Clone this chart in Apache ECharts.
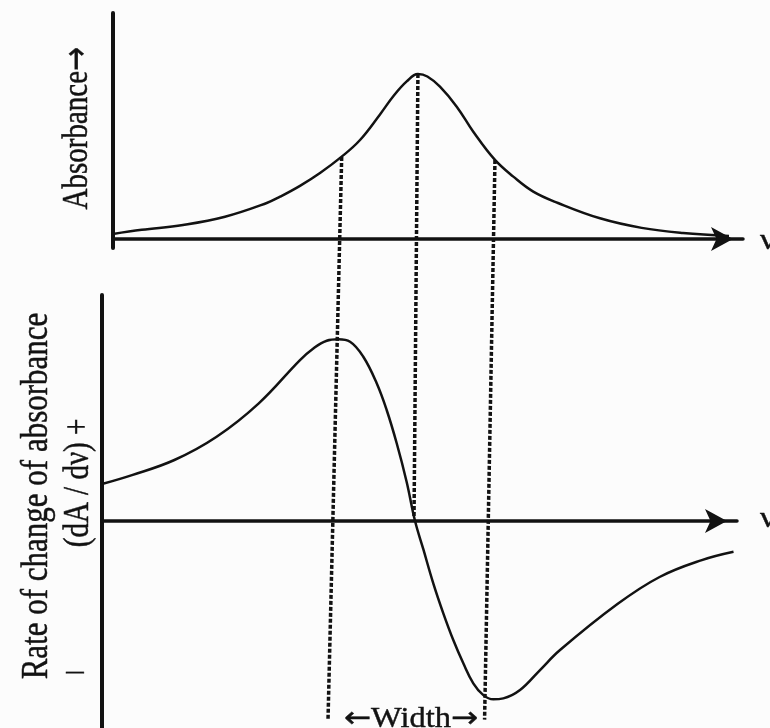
<!DOCTYPE html>
<html>
<head>
<meta charset="utf-8">
<script src="https://cdn.jsdelivr.net/npm/echarts@6/dist/echarts.min.js"></script>
<style>
html,body{margin:0;padding:0;background:#fcfcfc;}
#chart{width:770px;height:728px;}
</style>
</head>
<body>
<div id="chart"></div>
<script>
// Absorbance curve (top panel), frequency in arbitrary units
const absX = [0, 4.56, 11.11, 17.78, 24.4, 26.51, 29.68, 32.86, 36.3, 39.21, 42.38, 44.49, 46.62, 48.4, 49.9, 51.9, 54.56, 57.19, 60.63, 63.54, 66.71, 70.63, 77.3, 83.92, 90.48, 97.78];
const absY = [0.03, 0.055, 0.085, 0.135, 0.218, 0.256, 0.322, 0.400, 0.499, 0.600, 0.755, 0.865, 0.955, 1.0, 0.985, 0.923, 0.802, 0.650, 0.479, 0.378, 0.287, 0.218, 0.125, 0.067, 0.036, 0.018];

// First derivative curve (bottom panel)
const derX = [0, 4.72, 11.4, 18.05, 24.69, 31.18, 33.28, 35.39, 37.21, 39.06, 41.15, 43.26, 44.83, 46.41, 47.98, 49.3, 50.6, 52.17, 53.75, 55.32, 56.9, 58.47, 60.05, 61.62, 63.2, 65.83, 68.98, 72.13, 81.17, 87.81, 94.46, 99.45];
const derY = [0.204, 0.253, 0.336, 0.464, 0.648, 0.886, 0.950, 0.992, 1.0, 0.987, 0.904, 0.758, 0.611, 0.428, 0.215, 0, -0.155, -0.343, -0.508, -0.655, -0.783, -0.893, -0.958, -0.981, -0.976, -0.930, -0.820, -0.710, -0.457, -0.308, -0.215, -0.169];

// Vertical dotted guide lines, in top-panel units (projected downward)
const guideTopX = [36.3, 48.4, 60.63];
const guideTopY = [0.497, 1.0, 0.479];
const guideBotX = [34.13, 47.78, 58.98];
const guideBotY = [-2.915, -1.691, -2.915];

// Texts
const topYLabel = 'Absorbance';
const botYLabel1 = 'Rate of change of absorbance';
const botYLabel2 = '(dA / d\u03bd) +';
const botYMinus = '\u2013';
const xLabel = '\u03bd';
const widthLabel = 'Width';
const arrowL = '\u2190';
const arrowR = '\u2192';

const ink = '#121212';
const FONT = '"Liberation Serif", "DejaVu Serif", serif';
const ARROW_FONT = '"DejaVu Sans", sans-serif';

function zip(xs, ys) { return xs.map((x, i) => [x, ys[i]]); }

const chart = echarts.init(document.getElementById('chart'), null, {renderer: 'canvas'});

const axisCommon = {
  type: 'value',
  axisTick: {show: false},
  axisLabel: {show: false},
  splitLine: {show: false}
};

const guideSeries = guideTopX.map((x, i) => ({
  type: 'line',
  xAxisIndex: 0,
  yAxisIndex: 0,
  clip: false,
  symbol: 'none',
  silent: true,
  z: 5,
  lineStyle: {color: ink, width: 3.5, type: [4, 2]},
  data: [[x, guideTopY[i]], [guideBotX[i], guideBotY[i]]]
}));

const textStyle = (t, extra) => Object.assign({
  text: t, fill: ink, fontSize: 29, fontFamily: FONT, align: 'center', verticalAlign: 'middle',
  stroke: ink, lineWidth: 0.4
}, extra || {});

const richDefs = {
  t: {fontSize: 29, fontFamily: FONT, fill: ink},
  a: {fontSize: 29, fontFamily: ARROW_FONT, fill: ink}
};

chart.setOption({
  backgroundColor: '#fcfcfc',
  animation: false,
  grid: [
    {left: 113, right: 27, top: 13, bottom: 480},
    {left: 102, right: 33, top: 295, bottom: 0}
  ],
  xAxis: [
    Object.assign({}, axisCommon, {
      gridIndex: 0, min: 0, max: 100,
      axisLine: {show: true, onZero: true, symbol: ['none', 'arrow'], symbolSize: [18, 22], symbolOffset: [0, -10],
        lineStyle: {color: ink, width: 3.5}}
    }),
    Object.assign({}, axisCommon, {
      gridIndex: 1, min: 0, max: 100,
      axisLine: {show: true, onZero: true, symbol: ['none', 'arrow'], symbolSize: [18, 22], symbolOffset: [0, -10],
        lineStyle: {color: ink, width: 3.5}}
    })
  ],
  yAxis: [
    Object.assign({}, axisCommon, {
      gridIndex: 0, min: -0.055, max: 1.37,
      axisLine: {show: true, onZero: false, lineStyle: {color: ink, width: 4}}
    }),
    Object.assign({}, axisCommon, {
      gridIndex: 1, min: -1.139, max: 1.244,
      axisLine: {show: true, onZero: false, lineStyle: {color: ink, width: 4}}
    })
  ],
  series: [
    {
      type: 'line', xAxisIndex: 0, yAxisIndex: 0, symbol: 'none', smooth: 0.4,
      lineStyle: {color: ink, width: 2.5}, data: zip(absX, absY), z: 4
    },
    {
      type: 'line', xAxisIndex: 1, yAxisIndex: 1, symbol: 'none', smooth: 0.4, clip: false,
      lineStyle: {color: ink, width: 2.5}, data: zip(derX, derY), z: 4
    }
  ].concat(guideSeries),
  graphic: [
    {type: 'text', x: 78, y: 128, rotation: Math.PI / 2, scaleY: 1.2,
      style: textStyle('{t|' + topYLabel + '}{a|' + arrowR + '}', {rich: richDefs})},
    {type: 'text', x: 37, y: 496, rotation: Math.PI / 2, scaleY: 1.2, style: textStyle(botYLabel1, {fontSize: 31})},
    {type: 'text', x: 79, y: 483, rotation: Math.PI / 2, scaleY: 1.2, style: textStyle(botYLabel2)},
    {type: 'text', x: 75, y: 672, scaleX: 1.2, style: textStyle(botYMinus)},
    {type: 'text', x: 411, y: 719, scaleX: 1.12,
      style: textStyle('{a|' + arrowL + '}{t|' + widthLabel + '}{a|' + arrowR + '}', {rich: richDefs})},
    {type: 'text', x: 760, y: 241, scaleX: 1.2, style: textStyle(xLabel, {align: 'left'})},
    {type: 'text', x: 760, y: 519, scaleX: 1.2, style: textStyle(xLabel, {align: 'left'})}
  ]
});
</script>
</body>
</html>
